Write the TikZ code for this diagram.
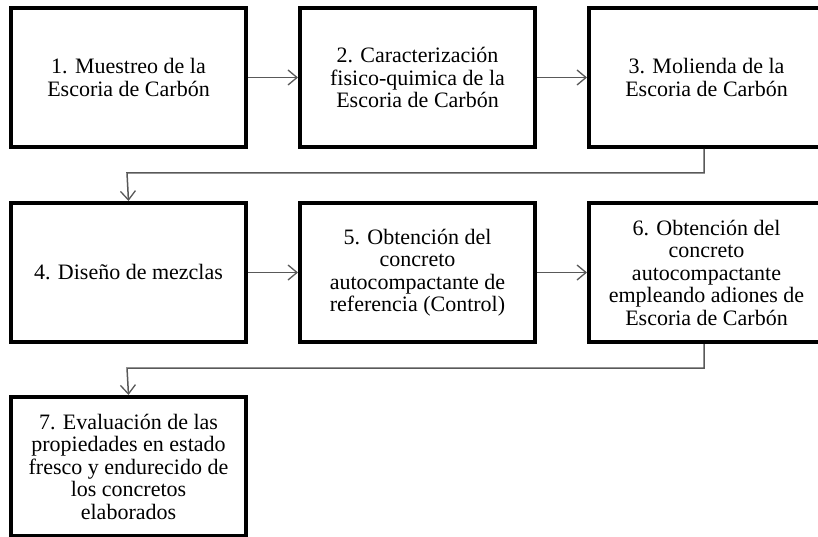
\documentclass[tikz,border=0pt]{standalone}
\usepackage{fontspec}
\setmainfont{Liberation Serif}
\usetikzlibrary{arrows.meta}
\begin{document}
\begin{tikzpicture}[x=1pt,y=-1pt,
  stepbox/.style={draw=black, line width=4pt, rectangle, minimum width=235pt, minimum height=139pt,
    inner sep=0pt, align=center, font=\fontsize{22}{22.5}\selectfont, anchor=north west},
  conn/.style={draw=black!65, line width=1.5pt, -{Straight Barb[length=9pt,width=15pt,line width=1.3pt]}}]
\useasboundingbox (0,0) rectangle (818,537);
\begin{scope}
\clip (0,0) rectangle (818,537);
\node[stepbox] (b1) at (9,6) {1. Muestreo de la\\Escoria de Carbón};
\node[stepbox] (b2) at (298,6) {2. Caracterización\\fisico-quimica de la\\Escoria de Carbón};
\node[stepbox] (b3) at (587,6) {3. Molienda de la\\Escoria de Carbón};
\node[stepbox] (b4) at (9,201) {4. Diseño de mezclas};
\node[stepbox] (b5) at (298,201) {5. Obtención del\\concreto\\autocompactante de\\referencia (Control)};
\node[stepbox] (b6) at (587,201) {6. Obtención del\\concreto\\autocompactante\\empleando adiones de\\Escoria de Carbón};
\node[stepbox] (b7) at (9,395) {7. Evaluación de las\\propiedades en estado\\fresco y endurecido de\\los concretos\\elaborados};
\end{scope}
\coordinate (k1) at (704,173);
\coordinate (k2) at (127,173);
\coordinate (k3) at (704,368);
\coordinate (k4) at (127,368);
\draw[conn] (b1.east) -- (b2.west);
\draw[conn] (b2.east) -- (b3.west);
\draw[conn] (b4.east) -- (b5.west);
\draw[conn] (b5.east) -- (b6.west);
\draw[conn] (b3.south -| k1) -- (k1) -- (k2) -- (b4.north);
\draw[conn] (b6.south -| k3) -- (k3) -- (k4) -- (b7.north);
\end{tikzpicture}
\end{document}
